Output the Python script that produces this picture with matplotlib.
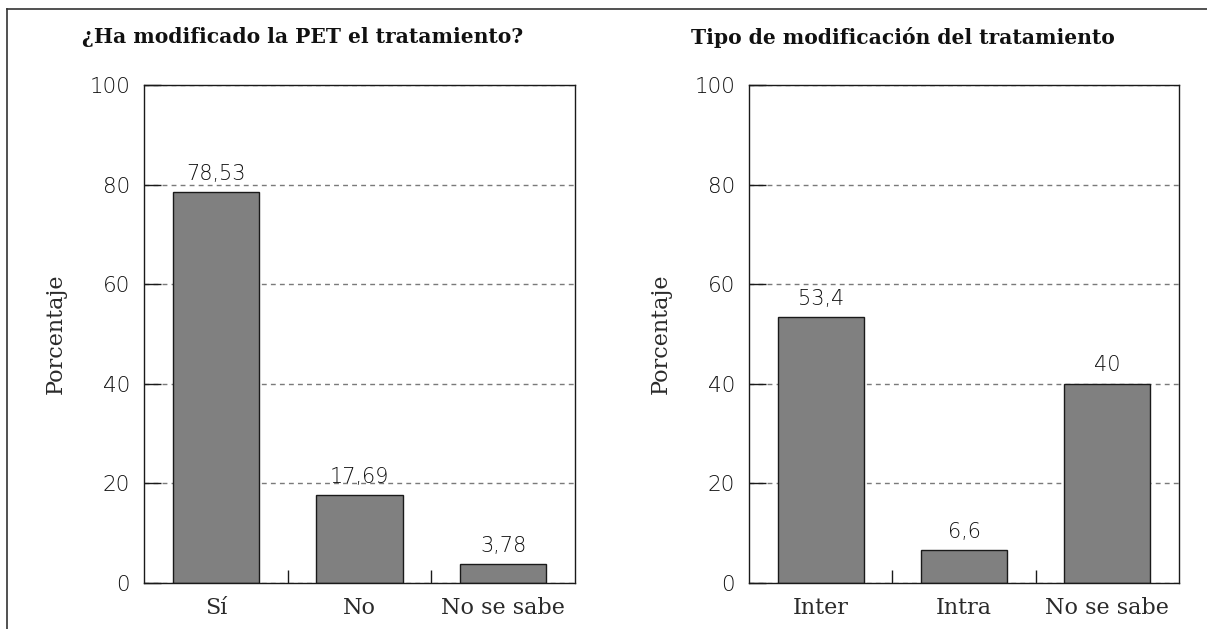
import matplotlib
matplotlib.use("Agg")
import matplotlib.pyplot as plt
from matplotlib.lines import Line2D
from matplotlib.ticker import FixedLocator

# Data
left_title = "¿Ha modificado la PET el tratamiento?"
left_categories = ["Sí", "No", "No se sabe"]
left_values = [78.53, 17.69, 3.78]

right_title = "Tipo de modificación del tratamiento"
right_categories = ["Inter", "Intra", "No se sabe"]
right_values = [53.4, 6.6, 40]

y_ticks = [0, 20, 40, 60, 80, 100]
y_label = "Porcentaje"

TITLE_FONT = "DejaVu Serif"
LABEL_FONT = "DejaVu Serif"
NUM_FONT = "DejaVu Sans"
TEXT_COLOR = "#2a2a2a"


def fmt(v):
    s = f"{v:.2f}".rstrip("0").rstrip(".")
    return s.replace(".", ",")


fig = plt.figure(figsize=(12.07, 6.29), dpi=100)
W, H = 1207, 629


def panel(x0, x1, title, cats, vals, title_x):
    top, bottom = 85, 583
    ax = fig.add_axes([x0 / W, 1 - bottom / H, (x1 - x0) / W, (bottom - top) / H])
    pos = list(range(len(cats)))
    ax.set_axisbelow(True)
    ax.yaxis.grid(True, linestyle=(0, (3.5, 3)), color="#7a7a7a", linewidth=1.0)
    ax.bar(pos, vals, width=0.6, color="#808080", edgecolor="#1a1a1a", linewidth=1.0, zorder=2)
    for p, v in zip(pos, vals):
        ax.annotate(fmt(v), (p, v), xytext=(0, 6), textcoords="offset points",
                    ha="center", va="bottom", fontsize=15, family=NUM_FONT,
                    fontweight="light", color="#111111")
    ax.set_xlim(-0.5, len(cats) - 0.5)
    ax.set_ylim(0, 100)
    ax.set_yticks(y_ticks)
    ax.set_yticklabels([str(t) for t in y_ticks], family=NUM_FONT, fontsize=15.5,
                       fontweight="light", color="#111111")
    ax.set_xticks(pos)
    ax.set_xticklabels(cats, family=LABEL_FONT, fontsize=16, color=TEXT_COLOR)
    ax.xaxis.set_minor_locator(FixedLocator([i + 0.5 for i in pos[:-1]]))
    ax.tick_params(axis="x", which="major", length=0, pad=10)
    ax.tick_params(axis="x", which="minor", direction="in", length=9.5, width=1.0, color="#1a1a1a")
    ax.tick_params(axis="y", which="major", direction="in", length=12, width=1.0,
                   color="#1a1a1a", pad=10, right=False)
    for s in ax.spines.values():
        s.set_linewidth(1.0)
        s.set_color("#1a1a1a")
    ax.set_ylabel(y_label, family=LABEL_FONT, fontsize=16, color=TEXT_COLOR, labelpad=16)
    fig.text(title_x / W, 1 - 37 / H, title, family=TITLE_FONT, fontweight="bold",
             fontsize=14.6, color="#111111", ha="left", va="center")
    return ax


panel(144, 575, left_title, left_categories, left_values, 82)
panel(749, 1179, right_title, right_categories, right_values, 691)

# Frame edges around the figure
fig.add_artist(Line2D([7 / W, 7 / W], [0, 1 - 9 / H], color="#333333", linewidth=1.2,
                      transform=fig.transFigure))
fig.add_artist(Line2D([7 / W, 1], [1 - 9 / H, 1 - 9 / H], color="#333333", linewidth=1.2,
                      transform=fig.transFigure))

fig.savefig("out.png", dpi=100, facecolor="white")
